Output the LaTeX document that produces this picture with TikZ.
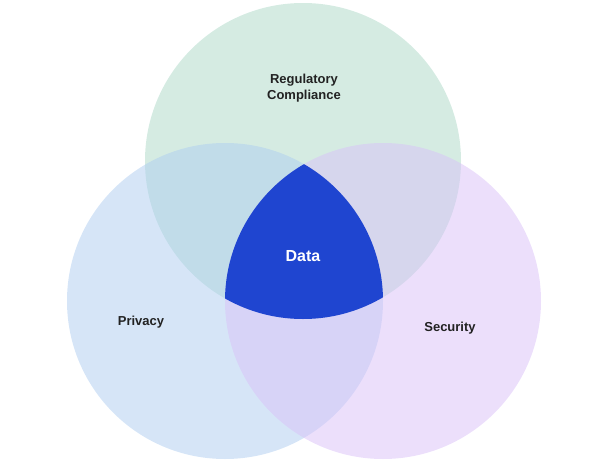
\documentclass[tikz,border=0pt]{standalone}
\usepackage{fontspec}
\setmainfont{Liberation Sans}
\definecolor{regGreen}{HTML}{ABD8C6}
\definecolor{privBlue}{HTML}{ADCCF0}
\definecolor{secLilac}{HTML}{D9C0F8}
\definecolor{dataBlue}{HTML}{1F45D0}
\definecolor{labelInk}{HTML}{222222}
\tikzset{
  area/.style={opacity=0.5},
  label text/.style={font=\bfseries\fontsize{13}{16}\selectfont, text=labelInk, align=center}
}
\begin{document}
\begin{tikzpicture}[x=1pt,y=-1pt]
    \useasboundingbox (0,0) rectangle (608,463);
    \coordinate (R) at (303,161);
    \coordinate (P) at (225,301);
    \coordinate (S) at (383,301);
    \fill[regGreen, area] (R) circle (158);
    \fill[privBlue, area] (P) circle (158);
    \fill[secLilac, area] (S) circle (158);
    \begin{scope}
      \clip (R) circle (158);
      \clip (P) circle (158);
      \fill[dataBlue] (S) circle (158);
    \end{scope}
    \node[label text] (reg) at (304,88) {Regulatory\\Compliance};
    \node[label text] (priv) at (141,322) {Privacy};
    \node[label text] (sec) at (450,328) {Security};
    \node[font=\bfseries\fontsize{16}{19}\selectfont, text=white] (data) at (303,256) {Data};
\end{tikzpicture}
\end{document}
